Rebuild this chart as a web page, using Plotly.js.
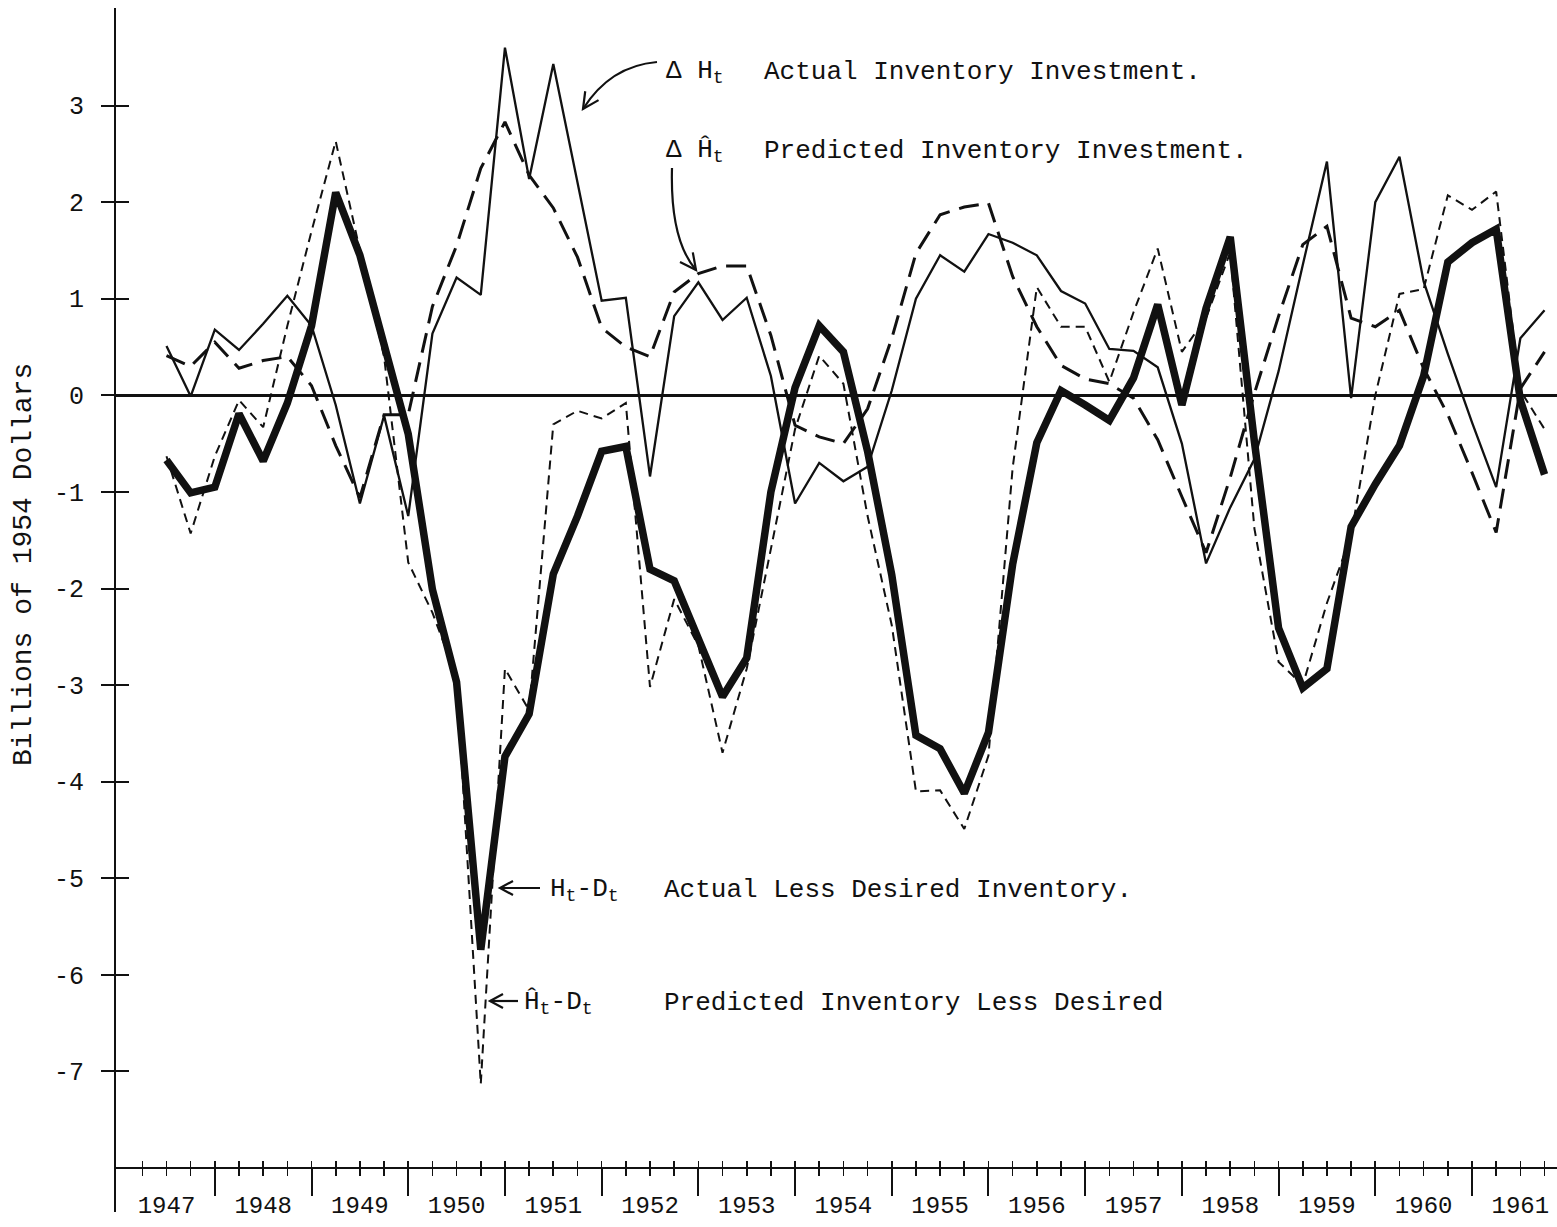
<!DOCTYPE html>
<html>
<head>
<meta charset="utf-8">
<script src="https://cdn.plot.ly/plotly-3.0.1.min.js"></script>
<style>html,body{margin:0;padding:0;background:#fff;}#chart{width:1557px;height:1227px;}</style>
</head>
<body>
<div id="chart"></div>
<script>
// ---- data (billions of 1954 dollars), quarterly ----
const quarters = [
 "1947Q3","1947Q4",
 "1948Q1","1948Q2","1948Q3","1948Q4",
 "1949Q1","1949Q2","1949Q3","1949Q4",
 "1950Q1","1950Q2","1950Q3","1950Q4",
 "1951Q1","1951Q2","1951Q3","1951Q4",
 "1952Q1","1952Q2","1952Q3","1952Q4",
 "1953Q1","1953Q2","1953Q3","1953Q4",
 "1954Q1","1954Q2","1954Q3","1954Q4",
 "1955Q1","1955Q2","1955Q3","1955Q4",
 "1956Q1","1956Q2","1956Q3","1956Q4",
 "1957Q1","1957Q2","1957Q3","1957Q4",
 "1958Q1","1958Q2","1958Q3","1958Q4",
 "1959Q1","1959Q2","1959Q3","1959Q4",
 "1960Q1","1960Q2","1960Q3","1960Q4",
 "1961Q1","1961Q2","1961Q3","1961Q4"
];
// Delta H_t : actual inventory investment (thin solid)
const actualInvestment = [
 0.51,-0.01,
 0.68,0.47,0.74,1.03,
 0.72,-0.10,-1.12,-0.21,
 -1.25,0.64,1.22,1.04,
 3.60,2.24,3.43,2.20,
 0.98,1.01,-0.84,0.82,
 1.17,0.78,1.01,0.20,
 -1.12,-0.70,-0.89,-0.74,
 0.05,1.00,1.45,1.28,
 1.67,1.58,1.45,1.08,
 0.95,0.48,0.46,0.29,
 -0.50,-1.74,-1.16,-0.66,
 0.25,1.35,2.42,-0.03,
 2.00,2.47,1.18,0.43,
 -0.28,-0.95,0.59,0.88
];
// Delta H-hat_t : predicted inventory investment (long dashes)
const predictedInvestment = [
 0.41,0.30,
 0.55,0.28,0.36,0.40,
 0.10,-0.52,-1.06,-0.20,
 -0.20,0.92,1.55,2.35,
 2.83,2.28,1.94,1.43,
 0.70,0.50,0.40,1.07,
 1.26,1.34,1.34,0.62,
 -0.31,-0.43,-0.50,-0.14,
 0.59,1.47,1.87,1.95,
 1.99,1.23,0.71,0.31,
 0.17,0.12,-0.03,-0.46,
 -1.05,-1.63,-0.85,0.02,
 0.82,1.56,1.75,0.80,
 0.71,0.88,0.28,-0.20,
 -0.80,-1.42,0.07,0.45
];
// H_t - D_t : actual less desired inventory (thick solid)
const actualLessDesired = [
 -0.67,-1.01,
 -0.95,-0.19,-0.68,-0.08,
 0.72,2.10,1.45,0.50,
 -0.40,-2.01,-2.97,-5.74,
 -3.74,-3.30,-1.85,-1.25,
 -0.58,-0.53,-1.80,-1.92,
 -2.52,-3.12,-2.72,-1.00,
 0.08,0.72,0.45,-0.58,
 -1.86,-3.52,-3.66,-4.12,
 -3.49,-1.75,-0.49,0.05,
 -0.10,-0.26,0.18,0.94,
 -0.10,0.90,1.64,-0.48,
 -2.41,-3.03,-2.83,-1.36,
 -0.92,-0.52,0.20,1.38,
 1.58,1.72,-0.05,-0.82
];
// H-hat_t - D_t : predicted inventory less desired (short dashes)
const predictedLessDesired = [
 -0.63,-1.43,
 -0.63,-0.05,-0.33,0.72,
 1.70,2.63,1.50,0.40,
 -1.73,-2.25,-2.92,-7.13,
 -2.83,-3.26,-0.30,-0.16,
 -0.24,-0.08,-3.02,-2.11,
 -2.59,-3.70,-2.83,-1.60,
 -0.35,0.41,0.12,-1.25,
 -2.38,-4.10,-4.09,-4.49,
 -3.73,-0.75,1.12,0.71,
 0.71,0.14,0.86,1.52,
 0.45,0.80,1.48,-1.38,
 -2.76,-3.00,-2.15,-1.45,
 0.00,1.05,1.10,2.07,
 1.92,2.11,0.05,-0.35
];
const yearLabels = ["1947","1948","1949","1950","1951","1952","1953","1954","1955","1956","1957","1958","1959","1960","1961"];
const yTickValues = [-7,-6,-5,-4,-3,-2,-1,0,1,2,3];

// ---- helpers ----
function quarterToX(q){ const y=parseInt(q.slice(0,4),10); const n=parseInt(q.slice(5),10); return y+(n-1)/4; }
const xs = quarters.map(quarterToX);
const years = yearLabels.map(Number);
const yearBoundaries = years.slice(1);
const labelPos = years.map(y=>y+0.5);
const quarterTicks = [];
years.forEach(y=>{ [0.25,0.5,0.75,1].forEach(f=>quarterTicks.push(y+f)); });

const W=1557,H=1227, L=116, R=0, T=8, B=15;
const PW=W-L-R, PH=H-T-B;
const XR=[1946.978,1961.879], YR=[-8.455,4.010];
const axisPos=(H-B-1168)/PH;
function px(x){return (x-L)/PW;}
function py(y){return (H-B-y)/PH;}
function P(x,y){return px(x).toFixed(5)+","+py(y).toFixed(5);}

const FONT="Liberation Mono, DejaVu Sans Mono, monospace";
const INK="#111";

const traces=[
 {x:xs,y:actualInvestment,mode:"lines",line:{color:INK,width:2.3},name:"actual investment",hoverinfo:"skip"},
 {x:xs,y:predictedInvestment,mode:"lines",line:{color:INK,width:3,dash:"20px,10px"},name:"predicted investment",hoverinfo:"skip"},
 {x:xs,y:predictedLessDesired,mode:"lines",line:{color:INK,width:2,dash:"9px,6px"},name:"predicted less desired",hoverinfo:"skip"},
 {x:xs,y:actualLessDesired,mode:"lines",line:{color:INK,width:7.5},name:"actual less desired",hoverinfo:"skip"},
 // empty carriers so the overlaid tick/label axes get drawn
 {x:quarterTicks,y:quarterTicks.map(()=>null),xaxis:"x2",yaxis:"y",mode:"lines",hoverinfo:"skip",showlegend:false},
 {x:labelPos,y:labelPos.map(()=>null),xaxis:"x3",yaxis:"y",mode:"lines",hoverinfo:"skip",showlegend:false},
 {x:xs,y:xs.map(()=>null),xaxis:"x",yaxis:"y2",mode:"lines",hoverinfo:"skip",showlegend:false}
];

const tfont={family:FONT,size:26,color:INK};
const annotations=[
 {xref:"paper",yref:"paper",x:px(664),y:py(72),xanchor:"left",yanchor:"middle",text:"Δ H<sub>t</sub>",showarrow:false,font:tfont},
 {xref:"paper",yref:"paper",x:px(762),y:py(72),xanchor:"left",yanchor:"middle",text:"Actual Inventory Investment.",showarrow:false,font:tfont},
 {xref:"paper",yref:"paper",x:px(664),y:py(151),xanchor:"left",yanchor:"middle",text:"Δ Ĥ<sub>t</sub>",showarrow:false,font:tfont},
 {xref:"paper",yref:"paper",x:px(762),y:py(151),xanchor:"left",yanchor:"middle",text:"Predicted Inventory Investment.",showarrow:false,font:tfont},
 {xref:"paper",yref:"paper",x:px(548),y:py(890),xanchor:"left",yanchor:"middle",text:"H<sub>t</sub>-D<sub>t</sub>",showarrow:false,font:tfont},
 {xref:"paper",yref:"paper",x:px(662),y:py(890),xanchor:"left",yanchor:"middle",text:"Actual Less Desired Inventory.",showarrow:false,font:tfont},
 {xref:"paper",yref:"paper",x:px(522),y:py(1003),xanchor:"left",yanchor:"middle",text:"Ĥ<sub>t</sub>-D<sub>t</sub>",showarrow:false,font:tfont},
 {xref:"paper",yref:"paper",x:px(662),y:py(1003),xanchor:"left",yanchor:"middle",text:"Predicted Inventory Less Desired",showarrow:false,font:tfont},
 {xref:"paper",yref:"paper",x:px(24),y:py(565),xanchor:"center",yanchor:"middle",textangle:-90,text:"Billions of 1954 Dollars",showarrow:false,font:{family:FONT,size:28,color:INK}}
];

// open "V" arrowhead at tip (tx,ty) coming from direction of (fx,fy), pixel units
function vHead(tx,ty,fx,fy,len,half){
 const dx=tx-fx, dy=ty-fy, n=Math.hypot(dx,dy), ux=dx/n, uy=dy/n;
 const bx=tx-ux*len, by=ty-uy*len;
 return "M"+P(bx-uy*half,by+ux*half)+" L"+P(tx,ty)+" L"+P(bx+uy*half,by-ux*half);
}
const lineStyle={color:INK,width:2.2};
const shapes=[
 {type:"path",xref:"paper",yref:"paper",path:"M"+P(657,62)+" Q"+P(610,66)+" "+P(583,109),line:lineStyle},
 {type:"path",xref:"paper",yref:"paper",path:vHead(583,109,597,88,16,8),line:lineStyle},
 {type:"path",xref:"paper",yref:"paper",path:"M"+P(672,168)+" Q"+P(670,240)+" "+P(696,270),line:lineStyle},
 {type:"path",xref:"paper",yref:"paper",path:vHead(696,270,684,254,16,8),line:lineStyle},
 {type:"path",xref:"paper",yref:"paper",path:"M"+P(540,888)+" L"+P(500,888),line:lineStyle},
 {type:"path",xref:"paper",yref:"paper",path:vHead(500,888,540,888,13,7),line:lineStyle},
 {type:"path",xref:"paper",yref:"paper",path:"M"+P(518,1001)+" L"+P(490,1001),line:lineStyle},
 {type:"path",xref:"paper",yref:"paper",path:vHead(490,1001,518,1001,13,7),line:lineStyle}
];

const layout={
 width:W,height:H,
 margin:{l:L,r:R,t:T,b:B,pad:0},
 paper_bgcolor:"#fff",plot_bgcolor:"#fff",
 showlegend:false,
 font:{family:FONT,color:INK},
 xaxis:{range:XR,anchor:"free",position:axisPos,showline:true,linewidth:2,linecolor:INK,
   showgrid:false,zeroline:false,tickmode:"array",tickvals:yearBoundaries,ticks:"outside",ticklen:27,tickwidth:2,tickcolor:INK,
   showticklabels:false,
   minor:{tickmode:"array",tickvals:quarterTicks,ticks:"outside",ticklen:7,tickwidth:1.6,tickcolor:INK,showgrid:false}},
 xaxis2:{range:XR,overlaying:"x",anchor:"free",position:axisPos,showline:false,showgrid:false,zeroline:false,
   tickmode:"array",tickvals:quarterTicks,ticks:"inside",ticklen:7,tickwidth:1.6,tickcolor:INK,showticklabels:false},
 xaxis3:{range:XR,overlaying:"x",anchor:"free",position:axisPos,showline:false,showgrid:false,zeroline:false,
   tickmode:"array",tickvals:labelPos,ticktext:yearLabels,ticks:"",ticklabelstandoff:20,side:"bottom",
   tickfont:{family:FONT,size:24,color:INK}},
 yaxis:{range:YR,showline:true,linewidth:2,linecolor:INK,showgrid:false,
   zeroline:true,zerolinewidth:2.5,zerolinecolor:INK,
   tickmode:"array",tickvals:yTickValues,ticktext:yTickValues.map(String),ticks:"outside",ticklen:13,tickwidth:2,tickcolor:INK,
   ticklabelstandoff:12,tickfont:{family:FONT,size:25,color:INK}},
 yaxis2:{range:YR,overlaying:"y",anchor:"x",showline:false,showgrid:false,zeroline:false,
   tickmode:"array",tickvals:yTickValues,ticks:"inside",ticklen:13,tickwidth:2,tickcolor:INK,showticklabels:false},
 annotations:annotations,
 shapes:shapes
};

Plotly.newPlot("chart",traces,layout,{staticPlot:true,displayModeBar:false});
</script>
</body>
</html>
